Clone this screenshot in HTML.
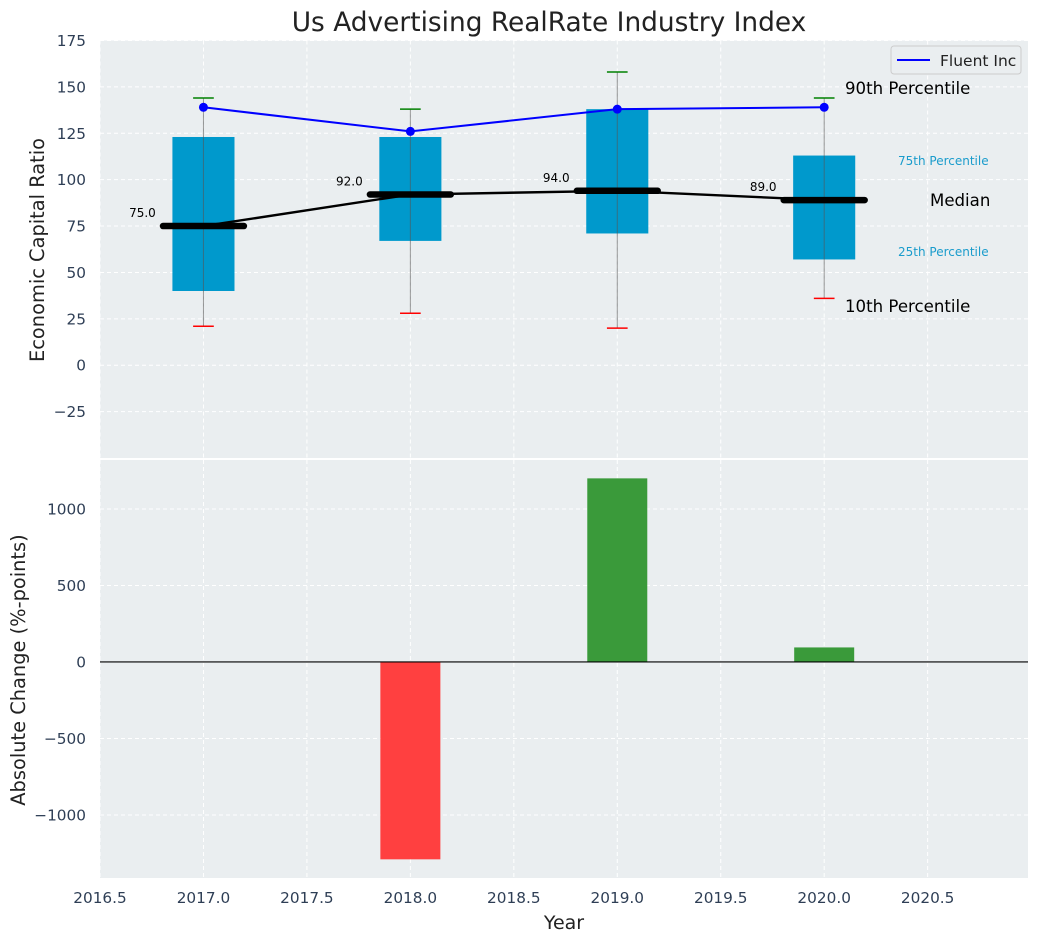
<!DOCTYPE html>
<html><head><meta charset="utf-8"><style>
body{margin:0;background:#fff;}
svg{display:block;font-family:"DejaVu Sans","Liberation Sans",sans-serif;}
</style></head><body>
<svg id="c" width="1039" height="942" xmlns="http://www.w3.org/2000/svg"></svg>
<script>
const years=[2017,2018,2019,2020];
const p10=[21,28,20,36];
const q1=[40,67,71,57];
const med=[75,92,94,89];
const q3=[123,123,138,113];
const p90=[144,138,158,144];
const fluent=[139,126,138,139];
const change=[0,-1290,1200,95];
const xTicks=[2016.5,2017,2017.5,2018,2018.5,2019,2019.5,2020,2020.5];
const yTopTicks=[-25,0,25,50,75,100,125,150,175];
const yBotTicks=[-1000,-500,0,500,1000];

const NS="http://www.w3.org/2000/svg";
const svg=document.getElementById('c');
function el(t,a,p){const e=document.createElementNS(NS,t);for(const k in a)e.setAttribute(k,a[k]);(p||svg).appendChild(e);return e;}
function txt(s,a,p){const e=el('text',a,p);e.textContent=s;return e;}
const L=100,R=1028;
const X=v=>L+(v-2016.5)*(R-L)/(2020.985-2016.5);
const T0=40.5,T1=458;
const Yt=v=>T0+(175-v)*(T1-T0)/(175+50);
const B0=460,B1=878;
const Yb=v=>B0+(1320-v)*(B1-B0)/(1320+1412);

let g=el('rect',{x:L,y:T0,width:R-L,height:T1-T0,fill:'#eaeef0'});

g=el('rect',{x:L,y:B0,width:R-L,height:B1-B0,fill:'#eaeef0'});

xTicks.forEach(t=>{
  el('line',{x1:X(t),x2:X(t),y1:T0,y2:T1,stroke:'#fff','stroke-dasharray':'4,3','stroke-width':1});
  el('line',{x1:X(t),x2:X(t),y1:B0,y2:B1,stroke:'#fff','stroke-dasharray':'4,3','stroke-width':1});
  const lt=txt(t.toFixed(1),{x:X(t),y:903,'text-anchor':'middle','font-size':15.3,fill:'#2e3e55'});
  
});
yTopTicks.forEach(t=>{
  el('line',{x1:L,x2:R,y1:Yt(t),y2:Yt(t),stroke:'#fff','stroke-dasharray':'4,3'});
  const lt=txt(t<0?'\u2212'+(-t):t,{x:86,y:Yt(t)+5.5,'text-anchor':'end','font-size':15.3,fill:'#2e3e55'});
  
});
yBotTicks.forEach(t=>{
  el('line',{x1:L,x2:R,y1:Yb(t),y2:Yb(t),stroke:'#fff','stroke-dasharray':'4,3'});
  const lt=txt(t<0?'\u2212'+(-t):t,{x:86,y:Yb(t)+5.5,'text-anchor':'end','font-size':15.3,fill:'#2e3e55'});
  
});
const bw=0.15,mw=0.21,cw=0.05;
years.forEach((yr,i)=>{
  const b=el('rect',{x:X(yr-bw),y:Yt(q3[i]),width:X(yr+bw)-X(yr-bw),height:Yt(q1[i])-Yt(q3[i]),fill:'#0099cc'});
  
  el('line',{x1:X(yr),x2:X(yr),y1:Yt(p10[i]),y2:Yt(p90[i]),stroke:'#555','stroke-opacity':0.6,'stroke-width':1});
  let c=el('line',{x1:X(yr-cw),x2:X(yr+cw),y1:Yt(p10[i]),y2:Yt(p10[i]),stroke:'red','stroke-width':1.5});
  
  c=el('line',{x1:X(yr-cw),x2:X(yr+cw),y1:Yt(p90[i]),y2:Yt(p90[i]),stroke:'green','stroke-width':1.5});
  
});
let pts=years.map((y,i)=>X(y)+','+Yt(med[i])).join(' ');
g=el('polyline',{points:pts,fill:'none',stroke:'#000','stroke-width':2.4});

years.forEach((yr,i)=>{
  const m=el('line',{x1:X(yr-mw)+3,x2:X(yr+mw)-3,y1:Yt(med[i]),y2:Yt(med[i]),stroke:'#000','stroke-width':6.5,'stroke-linecap':'round'});
  
  const t=txt(med[i].toFixed(1),{x:X(yr)-61,y:Yt(med[i])-9,'text-anchor':'middle','font-size':12,fill:'#000'});
  
});
pts=years.map((y,i)=>X(y)+','+Yt(fluent[i])).join(' ');
g=el('polyline',{points:pts,fill:'none',stroke:'blue','stroke-width':2});

years.forEach((yr,i)=>{
  const d=el('circle',{cx:X(yr),cy:Yt(fluent[i]),r:4.5,fill:'blue'});
  
});
[['90th Percentile',845,94,16.6,'#000'],['75th Percentile',898,165,12,'#1a9ccc'],['Median',930,206,16.6,'#000'],['25th Percentile',898,256,12,'#1a9ccc'],['10th Percentile',845,312,16.6,'#000']].forEach(a=>{
  const t=txt(a[0],{x:a[1],y:a[2],'font-size':a[3],fill:a[4]});
  
});
g=el('g',{});
el('rect',{x:891,y:46,width:130,height:28,rx:3,fill:'#eaeef0',stroke:'#ccc'},g);
el('line',{x1:897,x2:930,y1:60,y2:60,stroke:'blue','stroke-width':2},g);
txt('Fluent Inc',{x:940,y:66,'font-size':15.5,fill:'#222'},g);
years.forEach((yr,i)=>{
  const v=change[i];
  const r=el('rect',{x:X(yr-0.145),y:Math.min(Yb(v),Yb(0)),width:X(yr+0.145)-X(yr-0.145),height:Math.abs(Yb(v)-Yb(0)),fill:v<0?'#ff4040':'#3a9a3a'});
  
});
g=el('line',{x1:L,x2:R,y1:Yb(0),y2:Yb(0),stroke:'#000','stroke-width':1.2});

g=txt('Us Advertising RealRate Industry Index',{x:549,y:31,'text-anchor':'middle','font-size':26.4,fill:'#222'});

g=txt('Year',{x:564,y:929,'text-anchor':'middle','font-size':19,fill:'#222'});

g=txt('Economic Capital Ratio',{x:0,y:0,'text-anchor':'middle','font-size':19.4,fill:'#222',transform:'translate(44,250) rotate(-90)'});

g=txt('Absolute Change (%-points)',{x:0,y:0,'text-anchor':'middle','font-size':19.4,fill:'#222',transform:'translate(25,670) rotate(-90)'});

</script>
</body></html>
